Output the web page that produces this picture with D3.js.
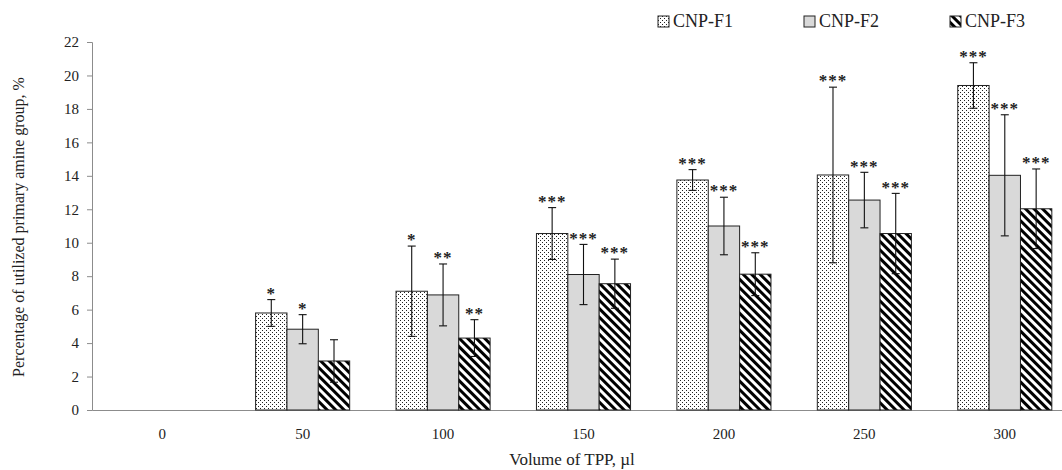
<!DOCTYPE html>
<html>
<head>
<meta charset="utf-8">
<script src="https://d3js.org/d3.v7.min.js"></script>
<style>
  body { margin: 0; background: #fff; }
  text { font-family: "Liberation Serif", "Times New Roman", serif; fill: #222; }
</style>
</head>
<body>
<div id="chart"></div>
<script>
  // categories and series
  var volumes = ["0", "50", "100", "150", "200", "250", "300"];
  var seriesNames = ["CNP-F1", "CNP-F2", "CNP-F3"];

  var valuesF1 = [0, 5.8, 7.1, 10.55, 13.75, 14.05, 19.4];
  var valuesF2 = [0, 4.83, 6.88, 8.1, 11.0, 12.55, 14.03];
  var valuesF3 = [0, 2.93, 4.3, 7.55, 8.12, 10.55, 12.03];

  var errF1 = [0, 0.8, 2.7, 1.55, 0.62, 5.25, 1.36];
  var errF2 = [0, 0.87, 1.85, 1.8, 1.72, 1.66, 3.62];
  var errF3 = [0, 1.27, 1.1, 1.47, 1.28, 2.4, 2.38];

  var starsF1 = ["", "*", "*", "***", "***", "***", "***"];
  var starsF2 = ["", "*", "**", "***", "***", "***", "***"];
  var starsF3 = ["", "", "**", "***", "***", "***", "***"];

  var yTicks = [0, 2, 4, 6, 8, 10, 12, 14, 16, 18, 20, 22];

  var width = 1062, height = 470;
  var margin = { top: 42, right: -13, bottom: 60, left: 92 };

  var allValues = [valuesF1, valuesF2, valuesF3];
  var allErr = [errF1, errF2, errF3];
  var allStars = [starsF1, starsF2, starsF3];

  var rows = [];
  volumes.forEach(function (v, i) {
    seriesNames.forEach(function (s, j) {
      rows.push({ vol: v, series: s, idx: j, value: allValues[j][i], err: allErr[j][i], stars: allStars[j][i] });
    });
  });

  var svg = d3.select("#chart").append("svg")
    .attr("width", width)
    .attr("height", height);

  // patterns
  var defs = svg.append("defs");
  var dots = defs.append("pattern")
    .attr("id", "dots")
    .attr("patternUnits", "userSpaceOnUse")
    .attr("width", 4).attr("height", 4);
  dots.append("rect").attr("width", 4).attr("height", 4).attr("fill", "#fff");
  dots.append("rect").attr("x", 0).attr("y", 0).attr("width", 1).attr("height", 1).attr("fill", "#222");
  dots.append("rect").attr("x", 2).attr("y", 2).attr("width", 1).attr("height", 1).attr("fill", "#222");

  var stripes = defs.append("pattern")
    .attr("id", "stripes")
    .attr("patternUnits", "userSpaceOnUse")
    .attr("width", 6).attr("height", 6)
    .attr("patternTransform", "rotate(-45)");
  stripes.append("rect").attr("width", 6).attr("height", 6).attr("fill", "#fff");
  stripes.append("rect").attr("width", 3).attr("height", 6).attr("fill", "#000");

  var fills = ["url(#dots)", "#d9d9d9", "url(#stripes)"];

  var x0 = d3.scaleBand()
    .domain(volumes)
    .range([margin.left, width - margin.right])
    .padding(0);

  var bw = x0.bandwidth();
  var x1 = d3.scaleBand()
    .domain(seriesNames)
    .range([bw * 0.165, bw * 0.835])
    .padding(0);

  var y = d3.scaleLinear()
    .domain([0, 22])
    .range([height - margin.bottom, margin.top]);

  // y axis
  var yAxis = svg.append("g")
    .attr("transform", "translate(" + margin.left + ",0)")
    .call(d3.axisLeft(y).tickValues(yTicks).tickSize(5).tickPadding(8));
  yAxis.select(".domain").attr("stroke", "#8c8c8c");
  yAxis.selectAll(".tick line").attr("stroke", "#8c8c8c");
  yAxis.selectAll(".tick text")
    .attr("font-size", 15)
    .attr("font-family", "Liberation Serif, serif")
    .attr("fill", "#222");

  // x axis
  var xAxis = svg.append("g")
    .attr("transform", "translate(0," + y(0) + ")")
    .call(d3.axisBottom(x0).tickSize(0).tickPadding(18).tickSizeOuter(0));
  xAxis.select(".domain").attr("stroke", "#8c8c8c");
  xAxis.selectAll(".tick text")
    .attr("font-size", 15)
    .attr("font-family", "Liberation Serif, serif")
    .attr("fill", "#222");

  // bars
  var bars = rows.filter(function (d) { return d.value > 0; });

  svg.append("g").selectAll("rect")
    .data(bars)
    .enter().append("rect")
    .attr("x", function (d) { return x0(d.vol) + x1(d.series); })
    .attr("y", function (d) { return y(d.value); })
    .attr("width", x1.bandwidth())
    .attr("height", function (d) { return y(0) - y(d.value); })
    .attr("fill", function (d) { return fills[d.idx]; })
    .attr("stroke", "#222")
    .attr("stroke-width", 1);

  // error bars
  var eg = svg.append("g").attr("stroke", "#111").attr("stroke-width", 1.1);
  bars.forEach(function (d) {
    var cx = x0(d.vol) + x1(d.series) + x1.bandwidth() / 2;
    eg.append("line")
      .attr("x1", cx).attr("x2", cx)
      .attr("y1", y(d.value + d.err)).attr("y2", y(d.value - d.err));
    eg.append("line")
      .attr("x1", cx - 4).attr("x2", cx + 4)
      .attr("y1", y(d.value + d.err)).attr("y2", y(d.value + d.err));
    eg.append("line")
      .attr("x1", cx - 4).attr("x2", cx + 4)
      .attr("y1", y(d.value - d.err)).attr("y2", y(d.value - d.err));
  });

  // significance stars
  svg.append("g").selectAll("text")
    .data(bars.filter(function (d) { return d.stars; }))
    .enter().append("text")
    .attr("x", function (d) { return x0(d.vol) + x1(d.series) + x1.bandwidth() / 2; })
    .attr("y", function (d) { return y(d.value + d.err) - 13; })
    .attr("dy", "0.72em")
    .attr("text-anchor", "middle")
    .attr("font-size", 17)
    .attr("font-weight", "bold")
    .attr("letter-spacing", 1)
    .text(function (d) { return d.stars; });

  // axis titles
  svg.append("text")
    .attr("transform", "translate(18," + ((y(0) + y(22)) / 2 + 1) + ") rotate(-90)")
    .attr("text-anchor", "middle")
    .attr("dy", "0.35em")
    .attr("font-size", 16)
    .text("Percentage of utilized primary amine group, %");

  svg.append("text")
    .attr("x", 572)
    .attr("y", 465)
    .attr("text-anchor", "middle")
    .attr("font-size", 17)
    .text("Volume of TPP, µl");

  // legend
  var legend = svg.append("g").attr("transform", "translate(658,16)");
  var item = legend.selectAll("g")
    .data(seriesNames)
    .enter().append("g")
    .attr("transform", function (d, i) { return "translate(" + (i * 146) + ",0)"; });
  item.append("rect")
    .attr("width", 11).attr("height", 11)
    .attr("fill", function (d, i) { return fills[i]; })
    .attr("stroke", "#222");
  item.append("text")
    .attr("x", 15)
    .attr("y", 11)
    .attr("font-size", 18)
    .text(function (d) { return d; });
</script>
</body>
</html>
